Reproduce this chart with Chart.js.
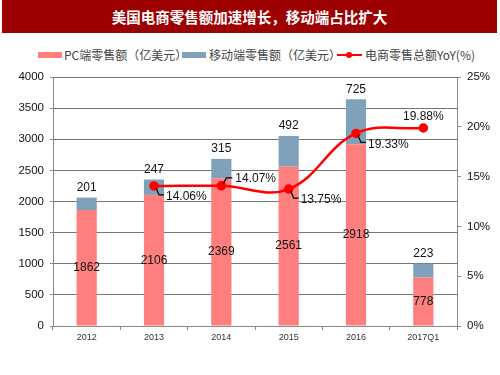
<!DOCTYPE html>
<html>
<head>
<meta charset="utf-8">
<script src="https://cdn.jsdelivr.net/npm/chart.js@4/dist/chart.umd.min.js"></script>
<style>
  body { margin: 0; background: #fff; width: 500px; height: 375px; overflow: hidden; position: relative; font-family: "Noto Sans CJK SC", sans-serif; }
  #myChart { position: absolute; left: 0; top: 0; }
  .banner { position: absolute; left: 2px; top: 0; width: 495px; height: 33px; background: #9c0000; color: #fff; font-weight: bold; font-size: 14.5px; line-height: 33px; text-align: center; }
  .legend { position: absolute; top: 46px; left: 0; width: 500px; height: 18px; font-size: 12px; color: #444; }
  .legend span { position: absolute; top: 0; line-height: 18px; white-space: nowrap; }
  .box { position: absolute; top: 6px; width: 24px; height: 6px; }
  .line { position: absolute; top: 8px; width: 25px; height: 2px; background: #ff0000; }
  .dot { position: absolute; top: 6px; width: 6px; height: 6px; border-radius: 50%; background: #ff0000; }
</style>
</head>
<body>
<div class="banner">美国电商零售额加速增长，移动端占比扩大</div>
<div class="legend">
  <div class="box" style="left:38px;background:#ff7f7f"></div>
  <span style="left:64px">PC端零售额（亿美元）</span>
  <div class="box" style="left:182px;background:#7fa2ba"></div>
  <span style="left:209px">移动端零售额（亿美元）</span>
  <div class="line" style="left:337px"></div>
  <div class="dot" style="left:346px"></div>
  <span style="left:365px">电商零售总额YoY(%)</span>
</div>
<canvas id="myChart" width="500" height="375"></canvas>
<script>
const categories = ['2012', '2013', '2014', '2015', '2016', '2017Q1'];
const pcSales = [1862, 2106, 2369, 2561, 2918, 778];
const mobileSales = [201, 247, 315, 492, 725, 223];
const yoyGrowth = [null, 14.06, 14.07, 13.75, 19.33, 19.88];
const yoyLabelSide = [null, 'below', 'above', 'below', 'below', 'top'];

const ctx = document.getElementById('myChart');

// data labels: PC value mid-bar, mobile value above the stack, YoY with small leader lines
const labelPlugin = {
  id: 'valueLabels',
  afterDatasetsDraw(chart) {
    const c = chart.ctx;
    c.save();
    c.font = '12px "Liberation Sans", Arial, sans-serif';
    c.fillStyle = '#111';
    c.textAlign = 'center';
    c.textBaseline = 'middle';

    const pcMeta = chart.getDatasetMeta(0);
    const mobMeta = chart.getDatasetMeta(1);
    pcMeta.data.forEach((bar, i) => {
      c.fillText(pcSales[i], bar.x, (bar.y + bar.base) / 2);
    });
    mobMeta.data.forEach((bar, i) => {
      c.fillText(mobileSales[i], bar.x, bar.y - 10);
    });

    const lineMeta = chart.getDatasetMeta(2);
    c.strokeStyle = '#000';
    c.lineWidth = 1.2;
    lineMeta.data.forEach((pt, i) => {
      if (yoyGrowth[i] === null) return;
      const x = pt.x, y = pt.y;
      const txt = yoyGrowth[i].toFixed(2) + '%';
      c.textAlign = 'left';
      if (yoyLabelSide[i] === 'below') {
        c.beginPath();
        c.moveTo(x + 2, y + 2);
        c.lineTo(x + 5, y + 9);
        c.lineTo(x + 10, y + 9);
        c.stroke();
        c.fillText(txt, x + 12, y + 11);
      } else if (yoyLabelSide[i] === 'above') {
        c.beginPath();
        c.moveTo(x + 2, y - 2);
        c.lineTo(x + 5, y - 8);
        c.lineTo(x + 11, y - 8);
        c.stroke();
        c.fillText(txt, x + 14, y - 7);
      } else {
        c.textAlign = 'center';
        c.fillText(txt, x, y - 11);
      }
    });
    c.restore();
  }
};

const data = {
  labels: categories,
  datasets: [
    {
      type: 'bar',
      label: 'PC端零售额（亿美元）',
      data: pcSales,
      backgroundColor: '#ff7f7f',
      yAxisID: 'y',
      stack: 'sales',
      order: 1,
      barPercentage: 0.3,
      categoryPercentage: 1,
    },
    {
      type: 'bar',
      label: '移动端零售额（亿美元）',
      data: mobileSales,
      backgroundColor: '#7fa2ba',
      yAxisID: 'y',
      stack: 'sales',
      order: 1,
      barPercentage: 0.3,
      categoryPercentage: 1,
    },
    {
      type: 'line',
      label: '电商零售总额YoY(%)',
      data: yoyGrowth,
      borderColor: '#ff0000',
      backgroundColor: '#ff0000',
      borderWidth: 2.5,
      pointRadius: 3.5,
      tension: 0.4,
      yAxisID: 'y1',
      order: 0,
    },
  ],
};

const tickFont = { family: '"Liberation Sans", Arial, sans-serif', size: 11.5 };

const options = {
  responsive: false,
  animation: false,
  layout: { padding: { top: 77, left: 0, right: 0, bottom: 0 } },
  plugins: {
    legend: { display: false },
    tooltip: { enabled: false },
  },
  scales: {
    x: {
      stacked: true,
      grid: { offset: true, drawOnChartArea: false, tickLength: 4, color: '#888' },
      border: { color: '#888' },
      ticks: { color: '#333', font: { family: '"Liberation Sans", Arial, sans-serif', size: 9 }, padding: 2 },
      afterFit(scale) { scale.height = 49; },
    },
    y: {
      stacked: true,
      position: 'left',
      min: 0,
      max: 4000,
      ticks: { stepSize: 500, color: '#111', font: tickFont, padding: 6, callback: v => String(v) },
      grid: { color: '#777', borderDash: [2, 1], tickLength: 3, tickBorderDash: [], tickColor: '#888' },
      border: { color: '#888' },
      afterFit(scale) { scale.width = 53; },
    },
    y1: {
      position: 'right',
      min: 0,
      max: 25,
      ticks: { stepSize: 5, color: '#111', font: tickFont, padding: 6, callback: v => v + '%' },
      grid: { drawOnChartArea: false, tickLength: 4, color: '#888' },
      border: { color: '#888' },
      afterFit(scale) { scale.width = 43; },
    },
  },
};

const chart = new Chart(ctx, {
  data,
  options,
  plugins: [labelPlugin],
});
</script>
</body>
</html>
